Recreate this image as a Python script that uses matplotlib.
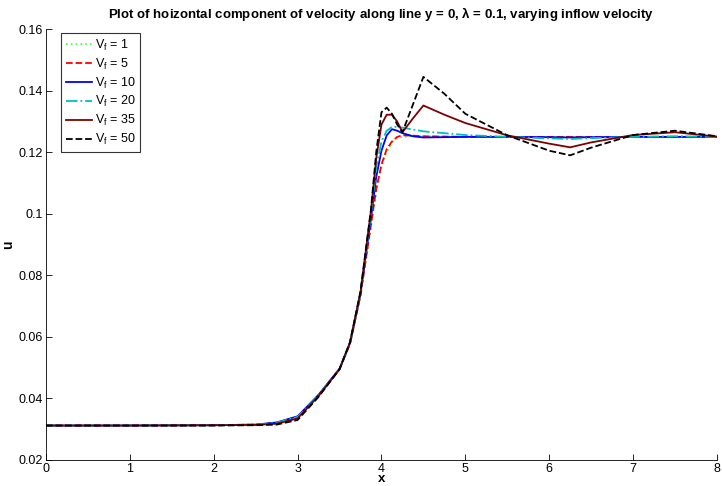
import matplotlib
matplotlib.use("Agg")
import matplotlib.pyplot as plt

plt.rcParams['font.family'] = ['Liberation Sans', 'DejaVu Sans']
plt.rcParams['mathtext.fontset'] = 'custom'
plt.rcParams['mathtext.rm'] = 'Liberation Sans'
plt.rcParams['mathtext.it'] = 'Liberation Sans'

x = [0, 1, 2, 2.5, 2.75, 3.0, 3.25, 3.5, 3.625, 3.75, 3.875, 3.9375, 4.0, 4.0625, 4.125, 4.1875,
     4.25, 4.375, 4.5, 4.75, 5.0, 5.5, 6.0, 6.25, 6.5, 7.0, 7.5, 8.0]

u_v1 = [0.0312, 0.0312, 0.0313, 0.0315, 0.0321, 0.0340, 0.0410, 0.0495, 0.0575, 0.0730, 0.0955,
        0.1070, 0.1150, 0.1200, 0.1230, 0.1245, 0.1250, 0.1252, 0.1252, 0.1251, 0.1250, 0.1250,
        0.1250, 0.1250, 0.1250, 0.1250, 0.1250, 0.1250]
u_v5 = [0.0312, 0.0312, 0.0313, 0.0315, 0.0321, 0.0340, 0.0410, 0.0495, 0.0578, 0.0735, 0.0965,
        0.1080, 0.1160, 0.1210, 0.1235, 0.1250, 0.1255, 0.1254, 0.1252, 0.1251, 0.1250, 0.1250,
        0.1250, 0.1250, 0.1250, 0.1250, 0.1250, 0.1250]
u_v10 = [0.0312, 0.0312, 0.0313, 0.0315, 0.0322, 0.0342, 0.0412, 0.0497, 0.0580, 0.0740, 0.0985,
         0.1120, 0.1205, 0.1255, 0.1275, 0.1270, 0.1262, 0.1252, 0.1248, 0.1249, 0.1250, 0.1250,
         0.1249, 0.1248, 0.1249, 0.1250, 0.1250, 0.1250]
u_v20 = [0.0312, 0.0312, 0.0313, 0.0315, 0.0321, 0.0340, 0.0410, 0.0495, 0.0580, 0.0742, 0.1000,
         0.1150, 0.1235, 0.1270, 0.1282, 0.1283, 0.1280, 0.1274, 0.1268, 0.1262, 0.1256, 0.1250,
         0.1245, 0.1243, 0.1246, 0.1250, 0.1252, 0.1250]
u_v35 = [0.0312, 0.0312, 0.0313, 0.0314, 0.0318, 0.0335, 0.0408, 0.0495, 0.0582, 0.0745, 0.1010,
         0.1180, 0.1290, 0.1322, 0.1322, 0.1300, 0.1265, 0.1310, 0.1352, 0.1322, 0.1295, 0.1255,
         0.1228, 0.1216, 0.1232, 0.1256, 0.1265, 0.1251]
u_v50 = [0.0312, 0.0312, 0.0312, 0.0313, 0.0315, 0.0330, 0.0405, 0.0495, 0.0583, 0.0748, 0.1015,
         0.1200, 0.1330, 0.1345, 0.1325, 0.1290, 0.1265, 0.1355, 0.1445, 0.1390, 0.1325, 0.1255,
         0.1205, 0.1190, 0.1215, 0.1256, 0.1270, 0.1252]

labels = [r'V$_\mathregular{f}$ = 1', r'V$_\mathregular{f}$ = 5', r'V$_\mathregular{f}$ = 10',
          r'V$_\mathregular{f}$ = 20', r'V$_\mathregular{f}$ = 35', r'V$_\mathregular{f}$ = 50']

fig = plt.figure(figsize=(7.22, 4.86), dpi=100)
ax = fig.add_axes([0.0637, 0.0535, 0.9293, 0.8865])

ax.plot(x, u_v1, color='#55ff55', linestyle=':', lw=1.3, label=labels[0])
ax.plot(x, u_v5, color='#ff0000', linestyle='--', lw=1.3, label=labels[1])
ax.plot(x, u_v10, color='#0000ff', linestyle='-', lw=1.3, label=labels[2])
ax.plot(x, u_v20, color='#00bfbf', linestyle='-.', lw=1.3, label=labels[3])
ax.plot(x, u_v35, color='#800000', linestyle='-', lw=1.3, label=labels[4])
ax.plot(x, u_v50, color='#000000', linestyle='--', lw=1.3, label=labels[5])

ax.set_xlim(0, 8)
ax.set_ylim(0.02, 0.16)
ax.set_xticks(range(0, 9))
ax.set_yticks([0.02, 0.04, 0.06, 0.08, 0.1, 0.12, 0.14, 0.16])
ax.set_yticklabels(['0.02', '0.04', '0.06', '0.08', '0.1', '0.12', '0.14', '0.16'])
ax.tick_params(direction='in', length=4, width=0.6, labelsize=9, pad=2)
for s in ['top', 'right']:
    ax.spines[s].set_visible(False)
for s in ['left', 'bottom']:
    ax.spines[s].set_linewidth(0.6)

ax.set_title(r'Plot of hoizontal component of velocity along line y = 0, $\mathregular{\lambda}$ = 0.1, varying inflow velocity',
             fontsize=9.5, fontweight='bold', pad=8)
ax.set_xlabel('x', fontsize=9.5, fontweight='bold', labelpad=-1)
ax.set_ylabel('u', fontsize=10, fontweight='bold', labelpad=3)

leg = ax.legend(loc='upper left', bbox_to_anchor=(0.023, 0.99), fontsize=9, frameon=True,
                fancybox=False, edgecolor='black', handlelength=2.1, handletextpad=0.25,
                borderpad=0.35, labelspacing=0.3, borderaxespad=0)
leg.get_frame().set_linewidth(0.8)

fig.savefig('out.png', dpi=100)
